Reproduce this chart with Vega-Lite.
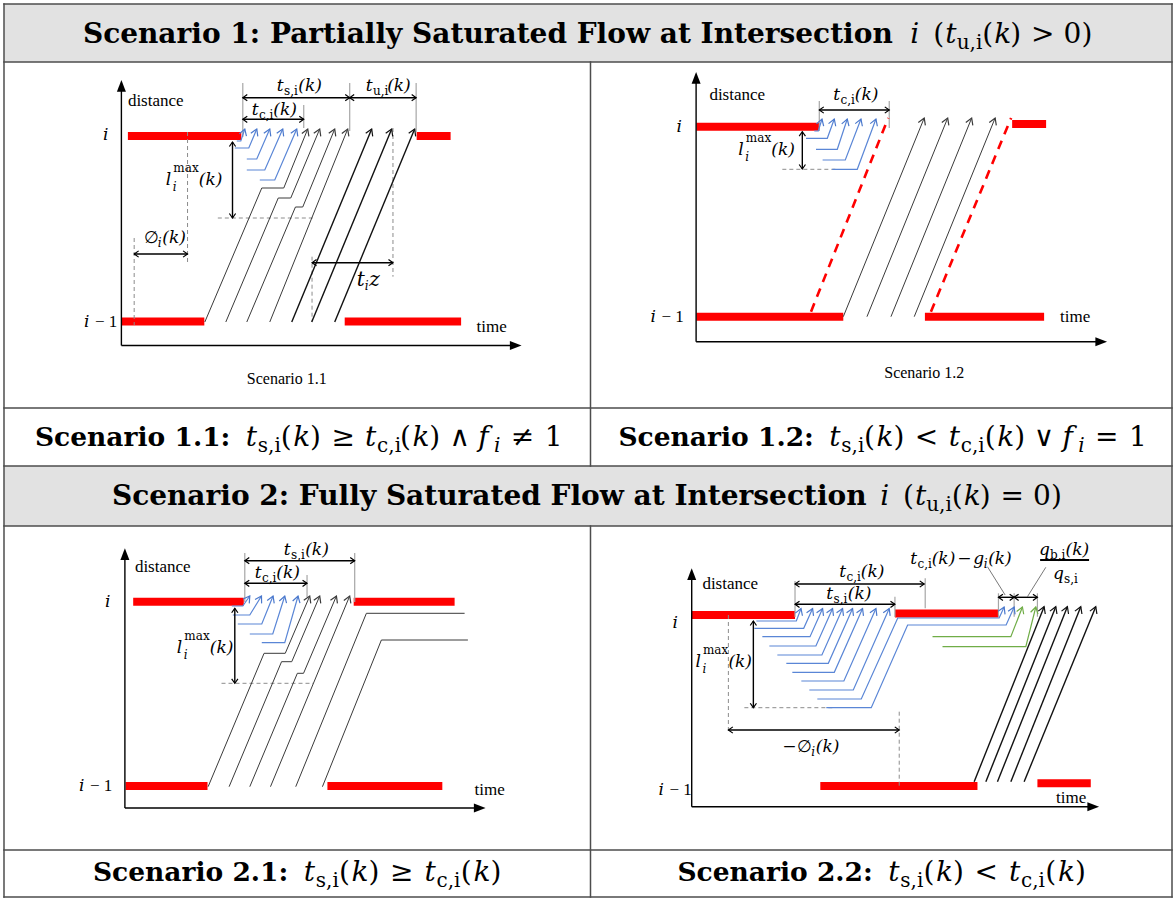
{
"$schema": "https://vega.github.io/schema/vega-lite/v6.json",
"width": 1175, "height": 900,
"autosize": {"type": "fit", "contains": "padding"},
"padding": 0,
"background": "white",
"config": {"view": {"stroke": null}},
"datasets": {
"boxes": [
{"t": 4, "t2": 1173, "d": 4, "d2": 62},
{"t": 4, "t2": 1173, "d": 466, "d2": 526}
],
"paths": [
{"id":"b1","k":"border","t":4,"d":4,"o":0},{"id":"b1","k":"border","t":1173,"d":4,"o":1},
{"id":"b2","k":"border","t":4,"d":897,"o":0},{"id":"b2","k":"border","t":1173,"d":897,"o":1},
{"id":"b3","k":"border","t":4,"d":4,"o":0},{"id":"b3","k":"border","t":4,"d":897,"o":1},
{"id":"b4","k":"border","t":1173,"d":4,"o":0},{"id":"b4","k":"border","t":1173,"d":897,"o":1},
{"id":"b5","k":"border","t":4,"d":62,"o":0},{"id":"b5","k":"border","t":1173,"d":62,"o":1},
{"id":"b6","k":"border","t":4,"d":408,"o":0},{"id":"b6","k":"border","t":1173,"d":408,"o":1},
{"id":"b7","k":"border","t":4,"d":466,"o":0},{"id":"b7","k":"border","t":1173,"d":466,"o":1},
{"id":"b8","k":"border","t":4,"d":526,"o":0},{"id":"b8","k":"border","t":1173,"d":526,"o":1},
{"id":"b9","k":"border","t":4,"d":850,"o":0},{"id":"b9","k":"border","t":1173,"d":850,"o":1},
{"id":"b10","k":"border","t":591,"d":62,"o":0},{"id":"b10","k":"border","t":591,"d":466,"o":1},
{"id":"b11","k":"border","t":591,"d":526,"o":0},{"id":"b11","k":"border","t":591,"d":897,"o":1},

{"id":"a11y","k":"axis","t":121.5,"d":345.5,"o":0},{"id":"a11y","k":"axis","t":121.5,"d":90,"o":1},
{"id":"a11x","k":"axis","t":121.5,"d":345.5,"o":0},{"id":"a11x","k":"axis","t":512,"d":345.5,"o":1},
{"id":"s11a","k":"signal","t":128,"d":136,"o":0},{"id":"s11a","k":"signal","t":241.5,"d":136,"o":1},
{"id":"s11b","k":"signal","t":417,"d":136,"o":0},{"id":"s11b","k":"signal","t":451,"d":136,"o":1},
{"id":"s11c","k":"signal","t":121.5,"d":321.5,"o":0},{"id":"s11c","k":"signal","t":204.5,"d":321.5,"o":1},
{"id":"s11d","k":"signal","t":345,"d":321.5,"o":0},{"id":"s11d","k":"signal","t":461.5,"d":321.5,"o":1},
{"id":"q11a","k":"queue","t":237,"d":141,"o":0},{"id":"q11a","k":"queue","t":241,"d":141,"o":1},{"id":"q11a","k":"queue","t":245,"d":129,"o":2},
{"id":"q11b","k":"queue","t":235,"d":148,"o":0},{"id":"q11b","k":"queue","t":249,"d":148,"o":1},{"id":"q11b","k":"queue","t":257,"d":129,"o":2},
{"id":"q11c","k":"queue","t":247,"d":159,"o":0},{"id":"q11c","k":"queue","t":257,"d":159,"o":1},{"id":"q11c","k":"queue","t":270,"d":129,"o":2},
{"id":"q11d","k":"queue","t":247,"d":170,"o":0},{"id":"q11d","k":"queue","t":265,"d":170,"o":1},{"id":"q11d","k":"queue","t":283,"d":129,"o":2},
{"id":"q11e","k":"queue","t":260,"d":180,"o":0},{"id":"q11e","k":"queue","t":275,"d":180,"o":1},{"id":"q11e","k":"queue","t":297,"d":129,"o":2},
{"id":"v11a","k":"veh","t":205,"d":322,"o":0},{"id":"v11a","k":"veh","t":262,"d":188,"o":1},{"id":"v11a","k":"veh","t":284,"d":188,"o":2},{"id":"v11a","k":"veh","t":308,"d":129,"o":3},
{"id":"v11b","k":"veh","t":226,"d":322,"o":0},{"id":"v11b","k":"veh","t":278.5,"d":198,"o":1},{"id":"v11b","k":"veh","t":291,"d":198,"o":2},{"id":"v11b","k":"veh","t":320,"d":129,"o":3},
{"id":"v11c","k":"veh","t":247,"d":322,"o":0},{"id":"v11c","k":"veh","t":295.7,"d":207,"o":1},{"id":"v11c","k":"veh","t":303,"d":207,"o":2},{"id":"v11c","k":"veh","t":335,"d":129,"o":3},
{"id":"v11d","k":"veh","t":270,"d":322,"o":0},{"id":"v11d","k":"veh","t":348,"d":129,"o":1},
{"id":"w11e","k":"vehBold","t":292,"d":322,"o":0},{"id":"w11e","k":"vehBold","t":372,"d":129,"o":1},
{"id":"w11f","k":"vehBold","t":312,"d":322,"o":0},{"id":"w11f","k":"vehBold","t":392,"d":129,"o":1},
{"id":"w11g","k":"vehBold","t":335,"d":322,"o":0},{"id":"w11g","k":"vehBold","t":415,"d":129,"o":1},
{"id":"d11a","k":"dim","t":243,"d":97.7,"o":0},{"id":"d11a","k":"dim","t":350,"d":97.7,"o":1},
{"id":"d11b","k":"dim","t":350,"d":97.7,"o":0},{"id":"d11b","k":"dim","t":416.5,"d":97.7,"o":1},
{"id":"d11c","k":"dim","t":243,"d":119.3,"o":0},{"id":"d11c","k":"dim","t":304,"d":119.3,"o":1},
{"id":"d11d","k":"dim","t":232.7,"d":142,"o":0},{"id":"d11d","k":"dim","t":232.7,"d":218,"o":1},
{"id":"d11e","k":"dim","t":134.3,"d":254,"o":0},{"id":"d11e","k":"dim","t":187.7,"d":254,"o":1},
{"id":"d11f","k":"dim","t":312.3,"d":262.7,"o":0},{"id":"d11f","k":"dim","t":393.3,"d":262.7,"o":1},
{"id":"k11a","k":"tick","t":243,"d":83,"o":0},{"id":"k11a","k":"tick","t":243,"d":137,"o":1},
{"id":"k11b","k":"tick","t":350,"d":83,"o":0},{"id":"k11b","k":"tick","t":350,"d":131,"o":1},
{"id":"k11c","k":"tick","t":416.5,"d":83,"o":0},{"id":"k11c","k":"tick","t":416.5,"d":132,"o":1},
{"id":"k11d","k":"tick","t":304,"d":105,"o":0},{"id":"k11d","k":"tick","t":304,"d":128,"o":1},
{"id":"g11a","k":"guide","t":218,"d":218,"o":0},{"id":"g11a","k":"guide","t":313,"d":218,"o":1},
{"id":"g11b","k":"guide","t":134.3,"d":238,"o":0},{"id":"g11b","k":"guide","t":134.3,"d":325,"o":1},
{"id":"g11c","k":"guide","t":187.7,"d":132,"o":0},{"id":"g11c","k":"guide","t":187.7,"d":263,"o":1},
{"id":"g11d","k":"guide","t":312.3,"d":256.7,"o":0},{"id":"g11d","k":"guide","t":312.3,"d":321.7,"o":1},
{"id":"g11e","k":"guide","t":393.3,"d":128,"o":0},{"id":"g11e","k":"guide","t":393.3,"d":276.7,"o":1},

{"id":"a12y","k":"axis","t":696.7,"d":341.7,"o":0},{"id":"a12y","k":"axis","t":696.7,"d":82,"o":1},
{"id":"a12x","k":"axis","t":696.7,"d":341.7,"o":0},{"id":"a12x","k":"axis","t":1097,"d":341.7,"o":1},
{"id":"s12a","k":"signal","t":697,"d":126.7,"o":0},{"id":"s12a","k":"signal","t":820,"d":126.7,"o":1},
{"id":"s12b","k":"signal","t":1013,"d":124,"o":0},{"id":"s12b","k":"signal","t":1047,"d":124,"o":1},
{"id":"s12c","k":"signal","t":697,"d":316.7,"o":0},{"id":"s12c","k":"signal","t":844,"d":316.7,"o":1},
{"id":"s12d","k":"signal","t":925.7,"d":316.7,"o":0},{"id":"s12d","k":"signal","t":1045,"d":316.7,"o":1},
{"id":"r12a","k":"redDash","t":811.7,"d":311.7,"o":0},{"id":"r12a","k":"redDash","t":889,"d":118,"o":1},
{"id":"r12b","k":"redDash","t":931.7,"d":311.7,"o":0},{"id":"r12b","k":"redDash","t":1012,"d":118,"o":1},
{"id":"q12a","k":"queue","t":815,"d":131,"o":0},{"id":"q12a","k":"queue","t":819,"d":131,"o":1},{"id":"q12a","k":"queue","t":822.7,"d":119,"o":2},
{"id":"q12b","k":"queue","t":806.7,"d":138.3,"o":0},{"id":"q12b","k":"queue","t":828,"d":138.3,"o":1},{"id":"q12b","k":"queue","t":835,"d":119,"o":2},
{"id":"q12c","k":"queue","t":816.7,"d":149.3,"o":0},{"id":"q12c","k":"queue","t":838,"d":149.3,"o":1},{"id":"q12c","k":"queue","t":848,"d":119,"o":2},
{"id":"q12d","k":"queue","t":823.3,"d":160,"o":0},{"id":"q12d","k":"queue","t":846,"d":160,"o":1},{"id":"q12d","k":"queue","t":861.7,"d":119,"o":2},
{"id":"q12e","k":"queue","t":833,"d":169.3,"o":0},{"id":"q12e","k":"queue","t":858,"d":169.3,"o":1},{"id":"q12e","k":"queue","t":876.7,"d":119,"o":2},
{"id":"v12a","k":"veh","t":844,"d":316.7,"o":0},{"id":"v12a","k":"veh","t":925,"d":118,"o":1},
{"id":"v12b","k":"veh","t":867.7,"d":316.7,"o":0},{"id":"v12b","k":"veh","t":948.5,"d":118,"o":1},
{"id":"v12c","k":"veh","t":891.7,"d":316.7,"o":0},{"id":"v12c","k":"veh","t":972.5,"d":118,"o":1},
{"id":"v12d","k":"veh","t":915,"d":316.7,"o":0},{"id":"v12d","k":"veh","t":996,"d":118,"o":1},
{"id":"d12a","k":"dim","t":820,"d":110,"o":0},{"id":"d12a","k":"dim","t":890,"d":110,"o":1},
{"id":"d12b","k":"dim","t":803,"d":131.7,"o":0},{"id":"d12b","k":"dim","t":803,"d":169,"o":1},
{"id":"k12a","k":"tick","t":820,"d":101,"o":0},{"id":"k12a","k":"tick","t":820,"d":131,"o":1},
{"id":"k12b","k":"tick","t":890,"d":101,"o":0},{"id":"k12b","k":"tick","t":890,"d":128,"o":1},
{"id":"g12a","k":"guide","t":783,"d":169.3,"o":0},{"id":"g12a","k":"guide","t":837,"d":169.3,"o":1},

{"id":"a21y","k":"axis","t":125,"d":808,"o":0},{"id":"a21y","k":"axis","t":125,"d":558,"o":1},
{"id":"a21x","k":"axis","t":125,"d":808,"o":0},{"id":"a21x","k":"axis","t":476,"d":808,"o":1},
{"id":"s21a","k":"signal","t":133.3,"d":601.7,"o":0},{"id":"s21a","k":"signal","t":244,"d":601.7,"o":1},
{"id":"s21b","k":"signal","t":354,"d":601.7,"o":0},{"id":"s21b","k":"signal","t":455,"d":601.7,"o":1},
{"id":"s21c","k":"signal","t":125.7,"d":786,"o":0},{"id":"s21c","k":"signal","t":207.7,"d":786,"o":1},
{"id":"s21d","k":"signal","t":327.7,"d":786,"o":0},{"id":"s21d","k":"signal","t":442.7,"d":786,"o":1},
{"id":"q21a","k":"queue","t":232,"d":606,"o":0},{"id":"q21a","k":"queue","t":243,"d":606,"o":1},{"id":"q21a","k":"queue","t":250,"d":596,"o":2},
{"id":"q21b","k":"queue","t":233,"d":615,"o":0},{"id":"q21b","k":"queue","t":250,"d":615,"o":1},{"id":"q21b","k":"queue","t":261.7,"d":596,"o":2},
{"id":"q21c","k":"queue","t":238,"d":624,"o":0},{"id":"q21c","k":"queue","t":262,"d":624,"o":1},{"id":"q21c","k":"queue","t":273.3,"d":596,"o":2},
{"id":"q21d","k":"queue","t":250,"d":634,"o":0},{"id":"q21d","k":"queue","t":273,"d":634,"o":1},{"id":"q21d","k":"queue","t":285,"d":596,"o":2},
{"id":"q21e","k":"queue","t":262,"d":642.7,"o":0},{"id":"q21e","k":"queue","t":285,"d":642.7,"o":1},{"id":"q21e","k":"queue","t":298.3,"d":596,"o":2},
{"id":"v21a","k":"veh","t":208.3,"d":786.7,"o":0},{"id":"v21a","k":"veh","t":264.3,"d":653.3,"o":1},{"id":"v21a","k":"veh","t":285.5,"d":653.3,"o":2},{"id":"v21a","k":"veh","t":310,"d":596,"o":3},
{"id":"v21b","k":"veh","t":229.3,"d":786.7,"o":0},{"id":"v21b","k":"veh","t":281.8,"d":661.7,"o":1},{"id":"v21b","k":"veh","t":292,"d":661.7,"o":2},{"id":"v21b","k":"veh","t":320,"d":596,"o":3},
{"id":"v21c","k":"veh","t":250,"d":786.7,"o":0},{"id":"v21c","k":"veh","t":297.6,"d":673.3,"o":1},{"id":"v21c","k":"veh","t":303.8,"d":673.3,"o":2},{"id":"v21c","k":"veh","t":336.7,"d":596,"o":3},
{"id":"v21d","k":"veh","t":270.7,"d":786.7,"o":0},{"id":"v21d","k":"veh","t":350,"d":596,"o":1},
{"id":"v21e","k":"veh","t":296,"d":786.7,"o":0},{"id":"v21e","k":"veh","t":366.7,"d":613.3,"o":1},{"id":"v21e","k":"veh","t":465,"d":613.3,"o":2},
{"id":"v21f","k":"veh","t":322.7,"d":786.7,"o":0},{"id":"v21f","k":"veh","t":381.7,"d":640,"o":1},{"id":"v21f","k":"veh","t":468.3,"d":640,"o":2},
{"id":"d21a","k":"dim","t":245,"d":560.7,"o":0},{"id":"d21a","k":"dim","t":355,"d":560.7,"o":1},
{"id":"d21b","k":"dim","t":245,"d":583.3,"o":0},{"id":"d21b","k":"dim","t":307.3,"d":583.3,"o":1},
{"id":"d21c","k":"dim","t":235,"d":608.3,"o":0},{"id":"d21c","k":"dim","t":235,"d":683.3,"o":1},
{"id":"k21a","k":"tick","t":245,"d":553,"o":0},{"id":"k21a","k":"tick","t":245,"d":602,"o":1},
{"id":"k21b","k":"tick","t":355,"d":553,"o":0},{"id":"k21b","k":"tick","t":355,"d":602,"o":1},
{"id":"k21c","k":"tick","t":307.3,"d":575,"o":0},{"id":"k21c","k":"tick","t":307.3,"d":597,"o":1},
{"id":"g21a","k":"guide","t":221.7,"d":683.3,"o":0},{"id":"g21a","k":"guide","t":313.3,"d":683.3,"o":1},

{"id":"a22y","k":"axis","t":692.3,"d":806.7,"o":0},{"id":"a22y","k":"axis","t":692.3,"d":578,"o":1},
{"id":"a22x","k":"axis","t":692.3,"d":806.7,"o":0},{"id":"a22x","k":"axis","t":1090,"d":806.7,"o":1},
{"id":"s22a","k":"signal","t":692.3,"d":615,"o":0},{"id":"s22a","k":"signal","t":795.7,"d":615,"o":1},
{"id":"s22b","k":"signal","t":895.7,"d":613.5,"o":0},{"id":"s22b","k":"signal","t":999.3,"d":613.5,"o":1},
{"id":"s22c","k":"signal","t":821,"d":786,"o":0},{"id":"s22c","k":"signal","t":978.3,"d":786,"o":1},
{"id":"s22d","k":"signal","t":1038.3,"d":783.3,"o":0},{"id":"s22d","k":"signal","t":1091.7,"d":783.3,"o":1},
{"id":"q22a","k":"queue","t":757,"d":621,"o":0},{"id":"q22a","k":"queue","t":797,"d":621,"o":1},{"id":"q22a","k":"queue","t":801.7,"d":608.5,"o":2},
{"id":"q22b","k":"queue","t":755,"d":628.3,"o":0},{"id":"q22b","k":"queue","t":804.4,"d":628.3,"o":1},{"id":"q22b","k":"queue","t":813.3,"d":608.5,"o":2},
{"id":"q22c","k":"queue","t":763,"d":636.7,"o":0},{"id":"q22c","k":"queue","t":810.7,"d":636.7,"o":1},{"id":"q22c","k":"queue","t":823.3,"d":608.5,"o":2},
{"id":"q22d","k":"queue","t":770,"d":646,"o":0},{"id":"q22d","k":"queue","t":816.6,"d":646,"o":1},{"id":"q22d","k":"queue","t":833.3,"d":608.5,"o":2},
{"id":"q22e","k":"queue","t":778,"d":655,"o":0},{"id":"q22e","k":"queue","t":822.6,"d":655,"o":1},{"id":"q22e","k":"queue","t":843.3,"d":608.5,"o":2},
{"id":"q22f","k":"queue","t":787,"d":663.3,"o":0},{"id":"q22f","k":"queue","t":829,"d":663.3,"o":1},{"id":"q22f","k":"queue","t":853.3,"d":608.5,"o":2},
{"id":"q22g","k":"queue","t":793,"d":672.3,"o":0},{"id":"q22g","k":"queue","t":835,"d":672.3,"o":1},{"id":"q22g","k":"queue","t":863.3,"d":608.5,"o":2},
{"id":"q22h","k":"queue","t":802,"d":681,"o":0},{"id":"q22h","k":"queue","t":844.6,"d":681,"o":1},{"id":"q22h","k":"queue","t":876.7,"d":608.5,"o":2},
{"id":"q22i","k":"queue","t":810,"d":690,"o":0},{"id":"q22i","k":"queue","t":854,"d":690,"o":1},{"id":"q22i","k":"queue","t":890,"d":608.5,"o":2},
{"id":"q22j","k":"queue","t":818,"d":699,"o":0},{"id":"q22j","k":"queue","t":862,"d":699,"o":1},{"id":"q22j","k":"queue","t":898.5,"d":618,"o":2},{"id":"q22j","k":"queue","t":1000,"d":618,"o":3},{"id":"q22j","k":"queue","t":1005,"d":607,"o":4},
{"id":"q22k","k":"queue","t":827,"d":707.7,"o":0},{"id":"q22k","k":"queue","t":872,"d":707.7,"o":1},{"id":"q22k","k":"queue","t":908.4,"d":625,"o":2},{"id":"q22k","k":"queue","t":1007,"d":625,"o":3},{"id":"q22k","k":"queue","t":1015,"d":607,"o":4},
{"id":"n22a","k":"green","t":933.3,"d":636.7,"o":0},{"id":"n22a","k":"green","t":1011.7,"d":636.7,"o":1},{"id":"n22a","k":"green","t":1023.3,"d":607,"o":2},
{"id":"n22b","k":"green","t":943.3,"d":646.7,"o":0},{"id":"n22b","k":"green","t":1026.7,"d":646.7,"o":1},{"id":"n22b","k":"green","t":1036.7,"d":607,"o":2},
{"id":"v22a","k":"vehBold","t":975,"d":781.7,"o":0},{"id":"v22a","k":"vehBold","t":1045,"d":606.7,"o":1},
{"id":"v22b","k":"vehBold","t":986.7,"d":781.7,"o":0},{"id":"v22b","k":"vehBold","t":1056.7,"d":606.7,"o":1},
{"id":"v22c","k":"vehBold","t":998.3,"d":781.7,"o":0},{"id":"v22c","k":"vehBold","t":1068.3,"d":606.7,"o":1},
{"id":"v22d","k":"vehBold","t":1011.7,"d":781.7,"o":0},{"id":"v22d","k":"vehBold","t":1081.7,"d":606.7,"o":1},
{"id":"v22e","k":"vehBold","t":1025,"d":781.7,"o":0},{"id":"v22e","k":"vehBold","t":1096.7,"d":606.7,"o":1},
{"id":"d22a","k":"dim","t":795.7,"d":584,"o":0},{"id":"d22a","k":"dim","t":925,"d":584,"o":1},
{"id":"d22b","k":"dim","t":795.7,"d":604.3,"o":0},{"id":"d22b","k":"dim","t":895.7,"d":604.3,"o":1},
{"id":"d22c","k":"dim","t":999.3,"d":597.3,"o":0},{"id":"d22c","k":"dim","t":1015,"d":597.3,"o":1},
{"id":"d22d","k":"dim","t":1015,"d":597.3,"o":0},{"id":"d22d","k":"dim","t":1038.3,"d":597.3,"o":1},
{"id":"d22e","k":"dim","t":754,"d":621,"o":0},{"id":"d22e","k":"dim","t":754,"d":707.7,"o":1},
{"id":"d22f","k":"dim","t":729,"d":730,"o":0},{"id":"d22f","k":"dim","t":900,"d":730,"o":1},
{"id":"k22a","k":"tick","t":795.7,"d":581,"o":0},{"id":"k22a","k":"tick","t":795.7,"d":617,"o":1},
{"id":"k22b","k":"tick","t":926,"d":578.3,"o":0},{"id":"k22b","k":"tick","t":926,"d":608.3,"o":1},
{"id":"k22c","k":"tick","t":895.7,"d":596.7,"o":0},{"id":"k22c","k":"tick","t":895.7,"d":617,"o":1},
{"id":"k22d","k":"tick","t":999.3,"d":593.3,"o":0},{"id":"k22d","k":"tick","t":999.3,"d":616.7,"o":1},
{"id":"k22e","k":"tick","t":1015,"d":593.3,"o":0},{"id":"k22e","k":"tick","t":1015,"d":616.7,"o":1},
{"id":"k22f","k":"tick","t":1038.3,"d":593.3,"o":0},{"id":"k22f","k":"tick","t":1038.3,"d":616.7,"o":1},
{"id":"g22a","k":"guide","t":745,"d":707.7,"o":0},{"id":"g22a","k":"guide","t":833,"d":707.7,"o":1},
{"id":"g22b","k":"guide","t":729,"d":615,"o":0},{"id":"g22b","k":"guide","t":729,"d":733.3,"o":1},
{"id":"g22c","k":"guide","t":900,"d":711.7,"o":0},{"id":"g22c","k":"guide","t":900,"d":788.3,"o":1},
{"id":"l22a","k":"leader","t":988.3,"d":566.7,"o":0},{"id":"l22a","k":"leader","t":1006,"d":595,"o":1},
{"id":"l22b","k":"leader","t":1046.7,"d":567.3,"o":0},{"id":"l22b","k":"leader","t":1028.3,"d":596.7,"o":1},
{"id":"f22","k":"frac","t":1041,"d":560,"o":0},{"id":"f22","k":"frac","t":1090,"d":560,"o":1}
],
"heads": [
{"k":"axis","t":121.5,"d":80,"a":0},{"k":"axis","t":522,"d":345.5,"a":90},
{"k":"queue","t":245,"d":129,"a":18},{"k":"queue","t":257,"d":129,"a":23},{"k":"queue","t":270,"d":129,"a":23},{"k":"queue","t":283,"d":129,"a":24},{"k":"queue","t":297,"d":129,"a":23},
{"k":"veh","t":308,"d":129,"a":22},{"k":"veh","t":320,"d":129,"a":23},{"k":"veh","t":335,"d":129,"a":23},{"k":"veh","t":348,"d":129,"a":22},
{"k":"vehBold","t":372,"d":129,"a":23},{"k":"vehBold","t":392,"d":129,"a":23},{"k":"vehBold","t":415,"d":129,"a":23},
{"k":"dim","t":243,"d":97.7,"a":270},{"k":"dim","t":350,"d":97.7,"a":90},{"k":"dim","t":350,"d":97.7,"a":270},{"k":"dim","t":416.5,"d":97.7,"a":90},
{"k":"dim","t":243,"d":119.3,"a":270},{"k":"dim","t":304,"d":119.3,"a":90},{"k":"dim","t":232.7,"d":142,"a":0},{"k":"dim","t":232.7,"d":218,"a":180},
{"k":"dim","t":134.3,"d":254,"a":270},{"k":"dim","t":187.7,"d":254,"a":90},{"k":"dim","t":312.3,"d":262.7,"a":270},{"k":"dim","t":393.3,"d":262.7,"a":90},

{"k":"axis","t":696.7,"d":72,"a":0},{"k":"axis","t":1108,"d":341.7,"a":90},
{"k":"queue","t":822.7,"d":119,"a":18},{"k":"queue","t":835,"d":119,"a":20},{"k":"queue","t":848,"d":119,"a":18},{"k":"queue","t":861.7,"d":119,"a":20},{"k":"queue","t":876.7,"d":119,"a":20},
{"k":"veh","t":925,"d":118,"a":22},{"k":"veh","t":948.5,"d":118,"a":22},{"k":"veh","t":972.5,"d":118,"a":22},{"k":"veh","t":996,"d":118,"a":22},
{"k":"dim","t":820,"d":110,"a":270},{"k":"dim","t":890,"d":110,"a":90},{"k":"dim","t":803,"d":131.7,"a":0},{"k":"dim","t":803,"d":169,"a":180},

{"k":"axis","t":125,"d":548.3,"a":0},{"k":"axis","t":486,"d":808,"a":90},
{"k":"queue","t":250,"d":596,"a":35},{"k":"queue","t":261.7,"d":596,"a":30},{"k":"queue","t":273.3,"d":596,"a":22},{"k":"queue","t":285,"d":596,"a":17},{"k":"queue","t":298.3,"d":596,"a":16},
{"k":"veh","t":310,"d":596,"a":23},{"k":"veh","t":320,"d":596,"a":23},{"k":"veh","t":336.7,"d":596,"a":23},{"k":"veh","t":350,"d":596,"a":22},
{"k":"dim","t":245,"d":560.7,"a":270},{"k":"dim","t":355,"d":560.7,"a":90},{"k":"dim","t":245,"d":583.3,"a":270},{"k":"dim","t":307.3,"d":583.3,"a":90},
{"k":"dim","t":235,"d":608.3,"a":0},{"k":"dim","t":235,"d":683.3,"a":180},

{"k":"axis","t":692.3,"d":568.3,"a":0},{"k":"axis","t":1100,"d":806.7,"a":90},
{"k":"queue","t":801.7,"d":608.5,"a":20},{"k":"queue","t":813.3,"d":608.5,"a":24},{"k":"queue","t":823.3,"d":608.5,"a":24},{"k":"queue","t":833.3,"d":608.5,"a":24},{"k":"queue","t":843.3,"d":608.5,"a":24},
{"k":"queue","t":853.3,"d":608.5,"a":24},{"k":"queue","t":863.3,"d":608.5,"a":24},{"k":"queue","t":876.7,"d":608.5,"a":24},{"k":"queue","t":890,"d":608.5,"a":24},
{"k":"queue","t":1005,"d":607,"a":24},{"k":"queue","t":1015,"d":607,"a":24},
{"k":"green","t":1023.3,"d":607,"a":21},{"k":"green","t":1036.7,"d":607,"a":14},
{"k":"vehBold","t":1045,"d":606.7,"a":22},{"k":"vehBold","t":1056.7,"d":606.7,"a":22},{"k":"vehBold","t":1068.3,"d":606.7,"a":22},{"k":"vehBold","t":1081.7,"d":606.7,"a":22},{"k":"vehBold","t":1096.7,"d":606.7,"a":22},
{"k":"dim","t":795.7,"d":584,"a":270},{"k":"dim","t":925,"d":584,"a":90},{"k":"dim","t":795.7,"d":604.3,"a":270},{"k":"dim","t":895.7,"d":604.3,"a":90},
{"k":"dim","t":999.3,"d":597.3,"a":270},{"k":"dim","t":1015,"d":597.3,"a":90},{"k":"dim","t":1015,"d":597.3,"a":270},{"k":"dim","t":1038.3,"d":597.3,"a":90},
{"k":"dim","t":754,"d":621,"a":0},{"k":"dim","t":754,"d":707.7,"a":180},{"k":"dim","t":729,"d":730,"a":270},{"k":"dim","t":900,"d":730,"a":90}
],
"texts": [
{"t":83,"d":35,"txt":"Scenario 1: Partially Saturated Flow at Intersection","r":"hb"},
{"t":911,"d":35,"txt":"i","r":"hm"},{"t":934,"d":35,"txt":"(","r":"hr"},{"t":946,"d":35,"txt":"t","r":"hm"},{"t":957.5,"d":43,"txt":"u,i","r":"hs"},
{"t":983,"d":35,"txt":"(","r":"hr"},{"t":995,"d":35,"txt":"k","r":"hm"},{"t":1011,"d":35,"txt":")","r":"hr"},{"t":1031.8,"d":35,"txt":">","r":"hr"},{"t":1064.5,"d":35,"txt":"0)","r":"hr"},

{"t":112,"d":497,"txt":"Scenario 2: Fully Saturated Flow at Intersection","r":"hb"},
{"t":881,"d":497,"txt":"i","r":"hm"},{"t":903.7,"d":497,"txt":"(","r":"hr"},{"t":915.7,"d":497,"txt":"t","r":"hm"},{"t":927,"d":505,"txt":"u,i","r":"hs"},
{"t":952.5,"d":497,"txt":"(","r":"hr"},{"t":964.5,"d":497,"txt":"k","r":"hm"},{"t":980.7,"d":497,"txt":")","r":"hr"},{"t":1001.3,"d":497,"txt":"=","r":"hr"},{"t":1034,"d":497,"txt":"0)","r":"hr"},

{"t":35,"d":438,"txt":"Scenario 1.1:","r":"cb"},
{"t":246,"d":438,"txt":"t","r":"hm"},{"t":258,"d":446,"txt":"s,i","r":"hs"},{"t":280.9,"d":438,"txt":"(","r":"hr"},{"t":293.4,"d":438,"txt":"k","r":"hm"},{"t":310.3,"d":438,"txt":")","r":"hr"},
{"t":331.7,"d":438,"txt":"≥","r":"hr"},{"t":365.4,"d":438,"txt":"t","r":"hm"},{"t":377.4,"d":446,"txt":"c,i","r":"hs"},{"t":400.3,"d":438,"txt":"(","r":"hr"},{"t":412.8,"d":438,"txt":"k","r":"hm"},{"t":429.7,"d":438,"txt":")","r":"hr"},
{"t":449.9,"d":438,"txt":"∧","r":"hr"},{"t":478.6,"d":438,"txt":"f","r":"hm"},{"t":494.4,"d":446,"txt":"i","r":"hsi"},{"t":511.2,"d":438,"txt":"≠","r":"hr"},{"t":545.3,"d":438,"txt":"1","r":"hr"},

{"t":619,"d":438,"txt":"Scenario 1.2:","r":"cb"},
{"t":830,"d":438,"txt":"t","r":"hm"},{"t":842,"d":446,"txt":"s,i","r":"hs"},{"t":864.8,"d":438,"txt":"(","r":"hr"},{"t":877.3,"d":438,"txt":"k","r":"hm"},{"t":894.2,"d":438,"txt":")","r":"hr"},
{"t":915.6,"d":438,"txt":"<","r":"hr"},{"t":949.6,"d":438,"txt":"t","r":"hm"},{"t":961.6,"d":446,"txt":"c,i","r":"hs"},{"t":985.7,"d":438,"txt":"(","r":"hr"},{"t":998.2,"d":438,"txt":"k","r":"hm"},{"t":1015.1,"d":438,"txt":")","r":"hr"},
{"t":1034.7,"d":438,"txt":"∨","r":"hr"},{"t":1063.4,"d":438,"txt":"f","r":"hm"},{"t":1079.2,"d":446,"txt":"i","r":"hsi"},{"t":1096,"d":438,"txt":"=","r":"hr"},{"t":1129.9,"d":438,"txt":"1","r":"hr"},

{"t":93,"d":873,"txt":"Scenario 2.1:","r":"cb"},
{"t":304,"d":873,"txt":"t","r":"hm"},{"t":316.1,"d":881,"txt":"s,i","r":"hs"},{"t":339.2,"d":873,"txt":"(","r":"hr"},{"t":351.8,"d":873,"txt":"k","r":"hm"},{"t":368.8,"d":873,"txt":")","r":"hr"},
{"t":390.4,"d":873,"txt":"≥","r":"hr"},{"t":424.8,"d":873,"txt":"t","r":"hm"},{"t":436.8,"d":881,"txt":"c,i","r":"hs"},{"t":461.2,"d":873,"txt":"(","r":"hr"},{"t":473.8,"d":873,"txt":"k","r":"hm"},{"t":490.8,"d":873,"txt":")","r":"hr"},

{"t":678,"d":873,"txt":"Scenario 2.2:","r":"cb"},
{"t":889,"d":873,"txt":"t","r":"hm"},{"t":901.1,"d":881,"txt":"s,i","r":"hs"},{"t":924.2,"d":873,"txt":"(","r":"hr"},{"t":936.8,"d":873,"txt":"k","r":"hm"},{"t":953.8,"d":873,"txt":")","r":"hr"},
{"t":975.4,"d":873,"txt":"<","r":"hr"},{"t":1009.8,"d":873,"txt":"t","r":"hm"},{"t":1021.8,"d":881,"txt":"c,i","r":"hs"},{"t":1046.2,"d":873,"txt":"(","r":"hr"},{"t":1058.8,"d":873,"txt":"k","r":"hm"},{"t":1075.8,"d":873,"txt":")","r":"hr"},

{"t":128,"d":101,"txt":"distance","r":"dl"},{"t":477,"d":327,"txt":"time","r":"dl"},{"t":247,"d":379,"txt":"Scenario 1.1","r":"dc"},
{"t":103,"d":135,"txt":"i","r":"dm"},{"t":84,"d":322,"txt":"i","r":"dm"},{"t":95,"d":322,"txt":"− 1","r":"dl"},
{"t":277,"d":86,"txt":"t","r":"dm"},{"t":284.3,"d":91,"txt":"s,i","r":"ds"},{"t":298.5,"d":86,"txt":"(k)","r":"dm"},
{"t":366,"d":86,"txt":"t","r":"dm"},{"t":373.3,"d":91,"txt":"u,i","r":"ds"},{"t":387.5,"d":86,"txt":"(k)","r":"dm"},
{"t":252,"d":110,"txt":"t","r":"dm"},{"t":259.3,"d":115,"txt":"c,i","r":"ds"},{"t":273.5,"d":110,"txt":"(k)","r":"dm"},
{"t":166,"d":180,"txt":"l","r":"dm"},{"t":173.5,"d":168,"txt":"max","r":"ds"},{"t":173,"d":187,"txt":"i","r":"dsi"},{"t":199,"d":180,"txt":"(k)","r":"dm"},
{"t":144,"d":238,"txt":"∅","r":"dr"},{"t":158,"d":243,"txt":"i","r":"dsi"},{"t":162.5,"d":238,"txt":"(k)","r":"dm"},
{"t":357,"d":280,"txt":"t","r":"dz"},{"t":365,"d":286,"txt":"i","r":"dsi"},{"t":369.5,"d":280,"txt":"z","r":"dz"},

{"t":710,"d":95,"txt":"distance","r":"dl"},{"t":1061,"d":317,"txt":"time","r":"dl"},{"t":885,"d":373,"txt":"Scenario 1.2","r":"dc"},
{"t":677,"d":127,"txt":"i","r":"dm"},{"t":651,"d":317,"txt":"i","r":"dm"},{"t":662,"d":317,"txt":"− 1","r":"dl"},
{"t":834,"d":95,"txt":"t","r":"dm"},{"t":841.3,"d":100,"txt":"c,i","r":"ds"},{"t":855.5,"d":95,"txt":"(k)","r":"dm"},
{"t":739,"d":150,"txt":"l","r":"dm"},{"t":746.5,"d":138,"txt":"max","r":"ds"},{"t":746,"d":157,"txt":"i","r":"dsi"},{"t":772,"d":150,"txt":"(k)","r":"dm"},

{"t":135,"d":567,"txt":"distance","r":"dl"},{"t":475,"d":790,"txt":"time","r":"dl"},
{"t":105,"d":602,"txt":"i","r":"dm"},{"t":79,"d":786,"txt":"i","r":"dm"},{"t":90,"d":786,"txt":"− 1","r":"dl"},
{"t":284,"d":550,"txt":"t","r":"dm"},{"t":291.3,"d":555,"txt":"s,i","r":"ds"},{"t":305.5,"d":550,"txt":"(k)","r":"dm"},
{"t":255,"d":573,"txt":"t","r":"dm"},{"t":262.3,"d":578,"txt":"c,i","r":"ds"},{"t":276.5,"d":573,"txt":"(k)","r":"dm"},
{"t":177,"d":648,"txt":"l","r":"dm"},{"t":184.5,"d":636,"txt":"max","r":"ds"},{"t":184,"d":655,"txt":"i","r":"dsi"},{"t":210,"d":648,"txt":"(k)","r":"dm"},

{"t":703,"d":584,"txt":"distance","r":"dl"},{"t":1057,"d":798,"txt":"time","r":"dl"},
{"t":673,"d":623,"txt":"i","r":"dm"},{"t":659,"d":790,"txt":"i","r":"dm"},{"t":670,"d":790,"txt":"− 1","r":"dl"},
{"t":840,"d":572,"txt":"t","r":"dm"},{"t":847.3,"d":577,"txt":"c,i","r":"ds"},{"t":861.5,"d":572,"txt":"(k)","r":"dm"},
{"t":827,"d":594,"txt":"t","r":"dm"},{"t":834.3,"d":599,"txt":"s,i","r":"ds"},{"t":848.5,"d":594,"txt":"(k)","r":"dm"},
{"t":911,"d":559,"txt":"t","r":"dm"},{"t":918.3,"d":564,"txt":"c,i","r":"ds"},{"t":932.5,"d":559,"txt":"(k)","r":"dm"},{"t":958,"d":559,"txt":"−","r":"dr"},
{"t":974,"d":559,"txt":"g","r":"dm"},{"t":984.5,"d":564,"txt":"i","r":"dsi"},{"t":989,"d":559,"txt":"(k)","r":"dm"},
{"t":1040,"d":550,"txt":"q","r":"dm"},{"t":1051,"d":555,"txt":"b,i","r":"ds"},{"t":1066.5,"d":550,"txt":"(k)","r":"dm"},
{"t":1054,"d":574,"txt":"q","r":"dm"},{"t":1065,"d":579,"txt":"s,i","r":"ds"},
{"t":696,"d":662,"txt":"l","r":"dm"},{"t":703.5,"d":650,"txt":"max","r":"ds"},{"t":703,"d":669,"txt":"i","r":"dsi"},{"t":729,"d":662,"txt":"(k)","r":"dm"},
{"t":783,"d":747,"txt":"−∅","r":"dr"},{"t":812,"d":752,"txt":"i","r":"dsi"},{"t":816.5,"d":747,"txt":"(k)","r":"dm"}
]
},
"encoding": {
"x": {"field": "t", "type": "quantitative", "scale": {"domain": [0, 1175], "nice": false, "zero": false}, "axis": null},
"y": {"field": "d", "type": "quantitative", "scale": {"domain": [0, 900], "nice": false, "zero": false, "reverse": true}, "axis": null}
},
"layer": [
{"data": {"name": "boxes"}, "mark": {"type": "rect", "color": "#e2e2e2"},
 "encoding": {"x2": {"field": "t2"}, "y2": {"field": "d2"}}},
{"data": {"name": "paths"}, "transform": [{"filter": {"field": "k", "equal": "border"}}],
 "mark": {"type": "line", "color": "#4d4d4d", "strokeWidth": 1.5, "strokeCap": "square"},
 "encoding": {"detail": {"field": "id", "type": "nominal"}, "order": {"field": "o", "type": "quantitative"}}},
{"data": {"name": "paths"}, "transform": [{"filter": {"field": "k", "equal": "signal"}}],
 "mark": {"type": "line", "color": "#ff0000", "strokeWidth": 8, "strokeCap": "butt"},
 "encoding": {"detail": {"field": "id", "type": "nominal"}, "order": {"field": "o", "type": "quantitative"}}},
{"data": {"name": "paths"}, "transform": [{"filter": {"field": "k", "equal": "guide"}}],
 "mark": {"type": "line", "color": "#8c8c8c", "strokeWidth": 1, "strokeDash": [4, 3]},
 "encoding": {"detail": {"field": "id", "type": "nominal"}, "order": {"field": "o", "type": "quantitative"}}},
{"data": {"name": "paths"}, "transform": [{"filter": {"field": "k", "equal": "tick"}}],
 "mark": {"type": "line", "color": "#a6a6a6", "strokeWidth": 1.2},
 "encoding": {"detail": {"field": "id", "type": "nominal"}, "order": {"field": "o", "type": "quantitative"}}},
{"data": {"name": "paths"}, "transform": [{"filter": {"field": "k", "equal": "redDash"}}],
 "mark": {"type": "line", "color": "#ff0000", "strokeWidth": 2.6, "strokeDash": [9, 7]},
 "encoding": {"detail": {"field": "id", "type": "nominal"}, "order": {"field": "o", "type": "quantitative"}}},
{"data": {"name": "paths"}, "transform": [{"filter": {"field": "k", "equal": "queue"}}],
 "mark": {"type": "line", "color": "#5a86d6", "strokeWidth": 1.2},
 "encoding": {"detail": {"field": "id", "type": "nominal"}, "order": {"field": "o", "type": "quantitative"}}},
{"data": {"name": "paths"}, "transform": [{"filter": {"field": "k", "equal": "green"}}],
 "mark": {"type": "line", "color": "#70ad47", "strokeWidth": 1.2},
 "encoding": {"detail": {"field": "id", "type": "nominal"}, "order": {"field": "o", "type": "quantitative"}}},
{"data": {"name": "paths"}, "transform": [{"filter": {"field": "k", "equal": "veh"}}],
 "mark": {"type": "line", "color": "#3a3a3a", "strokeWidth": 1},
 "encoding": {"detail": {"field": "id", "type": "nominal"}, "order": {"field": "o", "type": "quantitative"}}},
{"data": {"name": "paths"}, "transform": [{"filter": {"field": "k", "equal": "vehBold"}}],
 "mark": {"type": "line", "color": "#111111", "strokeWidth": 1.4},
 "encoding": {"detail": {"field": "id", "type": "nominal"}, "order": {"field": "o", "type": "quantitative"}}},
{"data": {"name": "paths"}, "transform": [{"filter": {"field": "k", "oneOf": ["axis", "dim"]}}],
 "mark": {"type": "line", "color": "#000000", "strokeWidth": 1.4},
 "encoding": {"detail": {"field": "id", "type": "nominal"}, "order": {"field": "o", "type": "quantitative"}}},
{"data": {"name": "paths"}, "transform": [{"filter": {"field": "k", "equal": "leader"}}],
 "mark": {"type": "line", "color": "#555555", "strokeWidth": 0.8},
 "encoding": {"detail": {"field": "id", "type": "nominal"}, "order": {"field": "o", "type": "quantitative"}}},
{"data": {"name": "paths"}, "transform": [{"filter": {"field": "k", "equal": "frac"}}],
 "mark": {"type": "line", "color": "#000000", "strokeWidth": 2},
 "encoding": {"detail": {"field": "id", "type": "nominal"}, "order": {"field": "o", "type": "quantitative"}}},
{"data": {"name": "heads"}, "transform": [{"filter": {"field": "k", "oneOf": ["veh","vehBold","queue","green"]}}],
 "mark": {"type": "point", "shape": "M -0.6 1 L 0 0 L 0.6 1", "filled": false, "size": 160, "strokeWidth": 1.2, "opacity": 1},
 "encoding": {"angle": {"field": "a", "type": "quantitative", "scale": null},
  "color": {"field": "k", "type": "nominal", "legend": null,
   "scale": {"domain": ["veh","vehBold","queue","green"], "range": ["#3a3a3a","#111111","#4a78cc","#70ad47"]}}}},
{"data": {"name": "heads"}, "transform": [{"filter": {"field": "k", "equal": "dim"}}],
 "mark": {"type": "point", "shape": "M -0.7 1 L 0 0 L 0.7 1", "filled": false, "size": 80, "strokeWidth": 1.2, "opacity": 1, "color": "#000000"},
 "encoding": {"angle": {"field": "a", "type": "quantitative", "scale": null}}},
{"data": {"name": "heads"}, "transform": [{"filter": {"field": "k", "equal": "axis"}}],
 "mark": {"type": "point", "shape": "M 0 0 L -1 2.6 L 1 2.6 Z", "filled": true, "size": 81, "opacity": 1, "color": "#000000"},
 "encoding": {"angle": {"field": "a", "type": "quantitative", "scale": null}}},
{"data": {"name": "texts"}, "transform": [{"filter": {"field": "r", "equal": "hb"}}],
 "mark": {"type": "text", "align": "left", "baseline": "middle", "font": "DejaVu Serif", "fontWeight": "bold", "fontSize": 28, "color": "#000000"},
 "encoding": {"text": {"field": "txt"}}},
{"data": {"name": "texts"}, "transform": [{"filter": {"field": "r", "equal": "cb"}}],
 "mark": {"type": "text", "align": "left", "baseline": "middle", "font": "DejaVu Serif", "fontWeight": "bold", "fontSize": 26.5, "color": "#000000"},
 "encoding": {"text": {"field": "txt"}}},
{"data": {"name": "texts"}, "transform": [{"filter": {"field": "r", "equal": "hm"}}],
 "mark": {"type": "text", "align": "left", "baseline": "middle", "font": "DejaVu Serif", "fontStyle": "italic", "fontSize": 28, "color": "#000000"},
 "encoding": {"text": {"field": "txt"}}},
{"data": {"name": "texts"}, "transform": [{"filter": {"field": "r", "equal": "hr"}}],
 "mark": {"type": "text", "align": "left", "baseline": "middle", "font": "DejaVu Serif", "fontSize": 28, "color": "#000000"},
 "encoding": {"text": {"field": "txt"}}},
{"data": {"name": "texts"}, "transform": [{"filter": {"field": "r", "equal": "hs"}}],
 "mark": {"type": "text", "align": "left", "baseline": "middle", "font": "DejaVu Serif", "fontSize": 20, "color": "#000000"},
 "encoding": {"text": {"field": "txt"}}},
{"data": {"name": "texts"}, "transform": [{"filter": {"field": "r", "equal": "hsi"}}],
 "mark": {"type": "text", "align": "left", "baseline": "middle", "font": "DejaVu Serif", "fontStyle": "italic", "fontSize": 20, "color": "#000000"},
 "encoding": {"text": {"field": "txt"}}},
{"data": {"name": "texts"}, "transform": [{"filter": {"field": "r", "equal": "dm"}}],
 "mark": {"type": "text", "align": "left", "baseline": "middle", "font": "DejaVu Serif", "fontStyle": "italic", "fontSize": 17, "color": "#000000"},
 "encoding": {"text": {"field": "txt"}}},
{"data": {"name": "texts"}, "transform": [{"filter": {"field": "r", "equal": "ds"}}],
 "mark": {"type": "text", "align": "left", "baseline": "middle", "font": "DejaVu Serif", "fontSize": 12, "color": "#000000"},
 "encoding": {"text": {"field": "txt"}}},
{"data": {"name": "texts"}, "transform": [{"filter": {"field": "r", "equal": "dsi"}}],
 "mark": {"type": "text", "align": "left", "baseline": "middle", "font": "DejaVu Serif", "fontStyle": "italic", "fontSize": 12, "color": "#000000"},
 "encoding": {"text": {"field": "txt"}}},
{"data": {"name": "texts"}, "transform": [{"filter": {"field": "r", "equal": "dr"}}],
 "mark": {"type": "text", "align": "left", "baseline": "middle", "font": "DejaVu Serif", "fontSize": 17, "color": "#000000"},
 "encoding": {"text": {"field": "txt"}}},
{"data": {"name": "texts"}, "transform": [{"filter": {"field": "r", "equal": "dz"}}],
 "mark": {"type": "text", "align": "left", "baseline": "middle", "font": "DejaVu Serif", "fontStyle": "italic", "fontSize": 20, "color": "#000000"},
 "encoding": {"text": {"field": "txt"}}},
{"data": {"name": "texts"}, "transform": [{"filter": {"field": "r", "equal": "dl"}}],
 "mark": {"type": "text", "align": "left", "baseline": "middle", "font": "Liberation Serif", "fontSize": 17, "color": "#000000"},
 "encoding": {"text": {"field": "txt"}}},
{"data": {"name": "texts"}, "transform": [{"filter": {"field": "r", "equal": "dc"}}],
 "mark": {"type": "text", "align": "left", "baseline": "middle", "font": "Liberation Serif", "fontSize": 16, "color": "#000000"},
 "encoding": {"text": {"field": "txt"}}}
]
}
